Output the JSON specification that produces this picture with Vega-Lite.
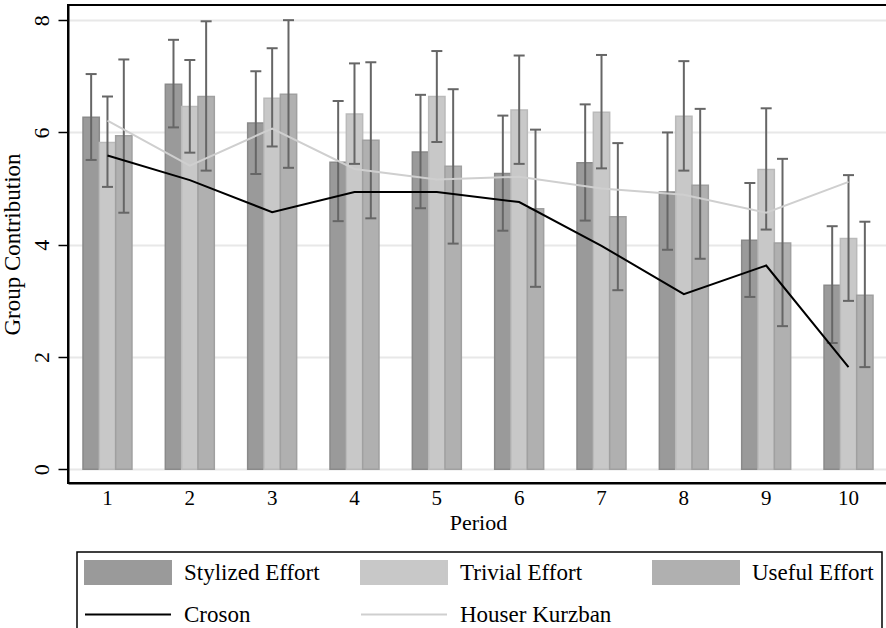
{
  "$schema": "https://vega.github.io/schema/vega-lite/v6.json",
  "width": 820,
  "height": 478,
  "autosize": {"type": "none"},
  "padding": {"left": 68, "top": 5, "right": 0, "bottom": 145},
  "background": "white",
  "config": {
    "font": "Liberation Serif",
    "view": {"stroke": "black", "strokeWidth": 2},
    "axis": {
      "labelFont": "Liberation Serif",
      "titleFont": "Liberation Serif",
      "labelColor": "black",
      "titleColor": "black",
      "titleFontWeight": "normal",
      "domainColor": "black",
      "domainWidth": 2,
      "tickColor": "black",
      "tickWidth": 1.5
    },
    "legend": {
      "orient": "none",
      "legendX": 9,
      "legendY": 547,
      "direction": "horizontal",
      "columns": 3,
      "strokeColor": "black",
      "strokeWidth": 1.5,
      "fillColor": "white",
      "padding": 8,
      "symbolSize": 529,
      "symbolStrokeWidth": 2,
      "labelFont": "Liberation Serif",
      "labelFontSize": 23,
      "labelColor": "black",
      "labelOffset": 74,
      "labelLimit": 300,
      "columnPadding": 36,
      "rowPadding": 14,
      "title": null
    }
  },
  "datasets": {
    "bars": [
      {"period": 1, "series": "Stylized Effort", "value": 6.27, "lo": 5.51, "hi": 7.04},
      {"period": 1, "series": "Trivial Effort", "value": 5.82, "lo": 5.03, "hi": 6.64},
      {"period": 1, "series": "Useful Effort", "value": 5.94, "lo": 4.57, "hi": 7.30},
      {"period": 2, "series": "Stylized Effort", "value": 6.86, "lo": 6.09, "hi": 7.65},
      {"period": 2, "series": "Trivial Effort", "value": 6.46, "lo": 5.64, "hi": 7.29},
      {"period": 2, "series": "Useful Effort", "value": 6.64, "lo": 5.32, "hi": 7.98},
      {"period": 3, "series": "Stylized Effort", "value": 6.17, "lo": 5.26, "hi": 7.09},
      {"period": 3, "series": "Trivial Effort", "value": 6.61, "lo": 5.75, "hi": 7.50},
      {"period": 3, "series": "Useful Effort", "value": 6.68, "lo": 5.37, "hi": 8.00},
      {"period": 4, "series": "Stylized Effort", "value": 5.47, "lo": 4.42, "hi": 6.56},
      {"period": 4, "series": "Trivial Effort", "value": 6.33, "lo": 5.44, "hi": 7.23},
      {"period": 4, "series": "Useful Effort", "value": 5.86, "lo": 4.47, "hi": 7.25},
      {"period": 5, "series": "Stylized Effort", "value": 5.65, "lo": 4.65, "hi": 6.67},
      {"period": 5, "series": "Trivial Effort", "value": 6.64, "lo": 5.83, "hi": 7.45},
      {"period": 5, "series": "Useful Effort", "value": 5.40, "lo": 4.02, "hi": 6.77},
      {"period": 6, "series": "Stylized Effort", "value": 5.27, "lo": 4.25, "hi": 6.30},
      {"period": 6, "series": "Trivial Effort", "value": 6.40, "lo": 5.44, "hi": 7.37},
      {"period": 6, "series": "Useful Effort", "value": 4.64, "lo": 3.25, "hi": 6.05},
      {"period": 7, "series": "Stylized Effort", "value": 5.46, "lo": 4.43, "hi": 6.50},
      {"period": 7, "series": "Trivial Effort", "value": 6.36, "lo": 5.36, "hi": 7.38},
      {"period": 7, "series": "Useful Effort", "value": 4.50, "lo": 3.19, "hi": 5.81},
      {"period": 8, "series": "Stylized Effort", "value": 4.94, "lo": 3.91, "hi": 6.00},
      {"period": 8, "series": "Trivial Effort", "value": 6.29, "lo": 5.32, "hi": 7.27},
      {"period": 8, "series": "Useful Effort", "value": 5.06, "lo": 3.75, "hi": 6.42},
      {"period": 9, "series": "Stylized Effort", "value": 4.08, "lo": 3.07, "hi": 5.10},
      {"period": 9, "series": "Trivial Effort", "value": 5.34, "lo": 4.27, "hi": 6.43},
      {"period": 9, "series": "Useful Effort", "value": 4.03, "lo": 2.55, "hi": 5.53},
      {"period": 10, "series": "Stylized Effort", "value": 3.28, "lo": 2.25, "hi": 4.33},
      {"period": 10, "series": "Trivial Effort", "value": 4.11, "lo": 3.00, "hi": 5.24},
      {"period": 10, "series": "Useful Effort", "value": 3.10, "lo": 1.82, "hi": 4.41}
    ],
    "lines": [
      {"period": 1, "series": "Croson", "value": 5.59},
      {"period": 2, "series": "Croson", "value": 5.15},
      {"period": 3, "series": "Croson", "value": 4.58},
      {"period": 4, "series": "Croson", "value": 4.94},
      {"period": 5, "series": "Croson", "value": 4.94},
      {"period": 6, "series": "Croson", "value": 4.76},
      {"period": 7, "series": "Croson", "value": 3.98},
      {"period": 8, "series": "Croson", "value": 3.12},
      {"period": 9, "series": "Croson", "value": 3.63},
      {"period": 10, "series": "Croson", "value": 1.82},
      {"period": 1, "series": "Houser Kurzban", "value": 6.21},
      {"period": 2, "series": "Houser Kurzban", "value": 5.41},
      {"period": 3, "series": "Houser Kurzban", "value": 6.07},
      {"period": 4, "series": "Houser Kurzban", "value": 5.35},
      {"period": 5, "series": "Houser Kurzban", "value": 5.16},
      {"period": 6, "series": "Houser Kurzban", "value": 5.21},
      {"period": 7, "series": "Houser Kurzban", "value": 5.00},
      {"period": 8, "series": "Houser Kurzban", "value": 4.89},
      {"period": 9, "series": "Houser Kurzban", "value": 4.57},
      {"period": 10, "series": "Houser Kurzban", "value": 5.12}
    ]
  },
  "encoding": {
    "x": {
      "field": "period",
      "type": "ordinal",
      "scale": {"paddingInner": 0.405, "paddingOuter": 0.182},
      "axis": {
        "title": "Period",
        "labelAngle": 0,
        "labelFontSize": 21,
        "titleFontSize": 22,
        "ticks": false,
        "labelPadding": 4,
        "titlePadding": 4,
        "grid": false
      }
    }
  },
  "layer": [
    {
      "data": {"name": "bars"},
      "mark": {"type": "bar", "strokeWidth": 1.5},
      "encoding": {
        "xOffset": {
          "field": "series",
          "type": "nominal",
          "scale": {"domain": ["Stylized Effort", "Trivial Effort", "Useful Effort"], "paddingInner": 0, "paddingOuter": 0}
        },
        "y": {
          "field": "value",
          "type": "quantitative",
          "scale": {"domain": [-0.244, 8.27], "nice": false, "zero": false},
          "axis": {
            "title": "Group Contribution",
            "values": [0, 2, 4, 6, 8],
            "labelAngle": -90,
            "labelFontSize": 22,
            "titleFontSize": 23,
            "tickSize": 10,
            "labelPadding": 5,
            "titlePadding": 6,
            "grid": true,
            "gridColor": "#e8e8e8",
            "gridWidth": 2
          }
        },
        "y2": {"datum": 0},
        "color": {
          "field": "series",
          "type": "nominal",
          "scale": {
            "domain": ["Stylized Effort", "Trivial Effort", "Useful Effort", "Croson", "Houser Kurzban"],
            "range": ["#9a9a9a", "#c8c8c8", "#b0b0b0", "#000000", "#cfcfcf"]
          },
          "legend": {
            "encode": {
              "symbols": {
                "update": {
                  "shape": {"signal": "(datum.value === 'Croson' || datum.value === 'Houser Kurzban') ? 'M-1.087,0H6.39' : 'M-1.087,-1H6.39V1H-1.087Z'"},
                  "fill": {"signal": "(datum.value === 'Croson' || datum.value === 'Houser Kurzban') ? 'transparent' : scale('color', datum.value)"},
                  "stroke": {"signal": "(datum.value === 'Croson' || datum.value === 'Houser Kurzban') ? scale('color', datum.value) : (datum.value === 'Trivial Effort' ? '#bcbcbc' : '#8e8e8e')"},
                  "strokeWidth": {"value": 2},
                  "opacity": {"value": 1}
                }
              }
            }
          }
        },
        "stroke": {
          "field": "series",
          "type": "nominal",
          "scale": {
            "domain": ["Stylized Effort", "Trivial Effort", "Useful Effort"],
            "range": ["#8a8a8a", "#bababa", "#a0a0a0"]
          },
          "legend": null
        }
      }
    },
    {
      "data": {"name": "bars"},
      "mark": {"type": "rule", "color": "#666666", "strokeWidth": 2},
      "encoding": {
        "xOffset": {"field": "series", "type": "nominal"},
        "y": {"field": "lo", "type": "quantitative"},
        "y2": {"field": "hi"}
      }
    },
    {
      "data": {"name": "bars"},
      "mark": {"type": "tick", "color": "#666666", "thickness": 2, "size": 11, "opacity": 1},
      "encoding": {
        "xOffset": {"field": "series", "type": "nominal"},
        "y": {"field": "lo", "type": "quantitative"}
      }
    },
    {
      "data": {"name": "bars"},
      "mark": {"type": "tick", "color": "#666666", "thickness": 2, "size": 11, "opacity": 1},
      "encoding": {
        "xOffset": {"field": "series", "type": "nominal"},
        "y": {"field": "hi", "type": "quantitative"}
      }
    },
    {
      "data": {"name": "lines"},
      "mark": {"type": "line", "strokeWidth": 2},
      "encoding": {
        "y": {"field": "value", "type": "quantitative"},
        "color": {"field": "series", "type": "nominal"}
      }
    }
  ]
}
